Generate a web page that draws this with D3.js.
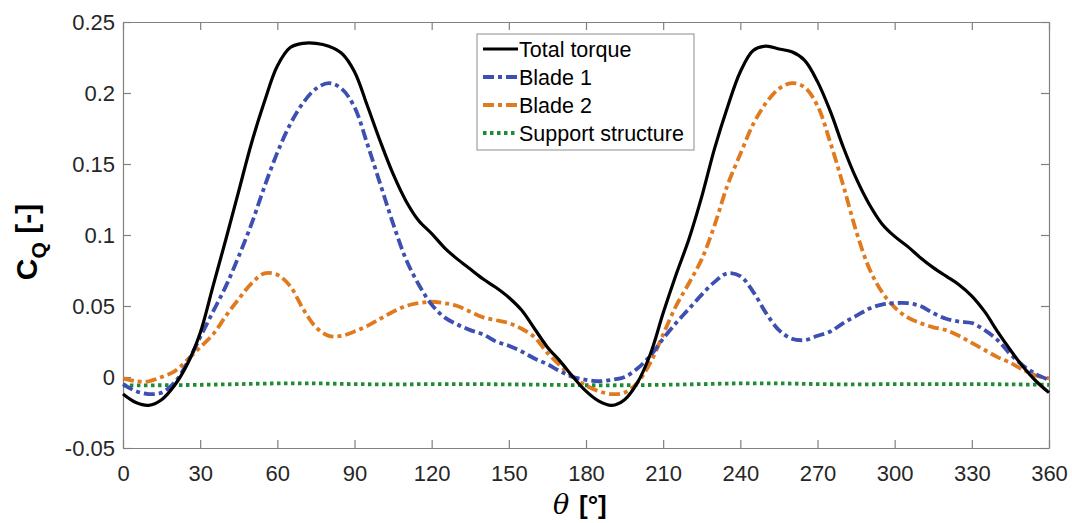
<!DOCTYPE html>
<html>
<head>
<meta charset="utf-8">
<script src="https://cdn.jsdelivr.net/npm/d3@7"></script>
<style>
  body { margin: 0; background: #fff; }
  svg { display: block; font-family: "Liberation Sans", Arial, sans-serif; }
  .axis text { font-size: 22px; fill: #262626; }
  .axis path, .axis line { stroke: #808080; stroke-width: 1.2; }
</style>
</head>
<body>
<div id="chart"></div>
<script>
// Rotor angle in degrees
const thetaDeg = [0,5,10,15,20,25,30,35,40,45,50,55,60,65,70,75,80,85,90,95,100,105,110,115,120,125,130,135,140,145,150,155,160,165,170,175,180,185,190,195,200,205,210,215,220,225,230,235,240,245,250,255,260,265,270,275,280,285,290,295,300,305,310,315,320,325,330,335,340,345,350,355,360];

// Torque coefficient, total
const totalTorque = [-0.012,-0.018,-0.020,-0.016,-0.006,0.009,0.031,0.064,0.097,0.131,0.165,0.194,0.219,0.232,0.235,0.235,0.233,0.228,0.215,0.191,0.166,0.143,0.124,0.110,0.101,0.091,0.083,0.076,0.069,0.063,0.056,0.047,0.034,0.021,0.011,0.000,-0.010,-0.017,-0.020,-0.016,-0.004,0.016,0.045,0.072,0.097,0.127,0.161,0.190,0.215,0.230,0.233,0.231,0.229,0.223,0.208,0.187,0.162,0.140,0.122,0.108,0.099,0.092,0.084,0.077,0.071,0.065,0.057,0.046,0.032,0.019,0.007,-0.003,-0.011];

// Blade 1
const blade1 = [-0.005,-0.010,-0.012,-0.011,-0.004,0.010,0.028,0.046,0.064,0.085,0.108,0.134,0.158,0.178,0.193,0.203,0.207,0.203,0.190,0.164,0.136,0.108,0.083,0.065,0.051,0.042,0.037,0.033,0.030,0.025,0.022,0.018,0.013,0.009,0.004,0.000,-0.002,-0.003,-0.002,0.000,0.006,0.015,0.027,0.038,0.048,0.058,0.067,0.073,0.071,0.060,0.045,0.033,0.027,0.026,0.029,0.032,0.038,0.043,0.048,0.051,0.052,0.052,0.050,0.045,0.041,0.039,0.038,0.033,0.026,0.016,0.008,0.002,-0.002];

// Blade 2
const blade2 = [-0.001,-0.003,-0.003,0.000,0.004,0.012,0.021,0.030,0.043,0.055,0.066,0.073,0.072,0.064,0.048,0.035,0.029,0.029,0.032,0.036,0.041,0.046,0.050,0.052,0.053,0.052,0.050,0.046,0.042,0.040,0.038,0.034,0.028,0.017,0.008,0.000,-0.006,-0.010,-0.012,-0.011,-0.004,0.010,0.030,0.050,0.066,0.083,0.107,0.135,0.157,0.178,0.193,0.203,0.207,0.204,0.191,0.165,0.135,0.103,0.077,0.060,0.049,0.042,0.038,0.035,0.033,0.029,0.024,0.019,0.014,0.010,0.005,0.001,-0.001];

// Support structure (sampled every 15 degrees)
const supportTheta = [0,15,30,45,60,75,90,105,120,135,150,165,180,195,210,225,240,255,270,285,300,315,330,345,360];
const supportStructure = [-0.0060,-0.0058,-0.0055,-0.0050,-0.0045,-0.0045,-0.0050,-0.0052,-0.0050,-0.0050,-0.0052,-0.0055,-0.0058,-0.0058,-0.0055,-0.0050,-0.0045,-0.0045,-0.0050,-0.0052,-0.0050,-0.0050,-0.0050,-0.0052,-0.0055];

const xTicks = [0,30,60,90,120,150,180,210,240,270,300,330,360];
const yTicks = [-0.05,0,0.05,0.1,0.15,0.2,0.25];
const seriesNames = ['Total torque','Blade 1','Blade 2','Support structure'];

(function(){
  const width = 1072, height = 523;
  const margin = {top: 22, right: 23, bottom: 75, left: 123};
  const innerWidth = width - margin.left - margin.right;
  const innerHeight = height - margin.top - margin.bottom;

  const svg = d3.select('#chart').append('svg')
    .attr('width', width).attr('height', height);
  const plot = svg.append('g').attr('transform', `translate(${margin.left},${margin.top})`);

  const x = d3.scaleLinear().domain([0, 360]).range([0, innerWidth]);
  const y = d3.scaleLinear().domain([-0.05, 0.25]).range([innerHeight, 0]);

  // Box with inward ticks on all four sides
  plot.append('g').attr('class', 'axis')
    .attr('transform', `translate(0,${innerHeight})`)
    .call(d3.axisBottom(x).tickValues(xTicks).tickSizeInner(-8).tickSizeOuter(0).tickPadding(17));
  plot.append('g').attr('class', 'axis')
    .call(d3.axisTop(x).tickValues(xTicks).tickSizeInner(-8).tickSizeOuter(0).tickFormat(''));
  plot.append('g').attr('class', 'axis')
    .call(d3.axisLeft(y).tickValues(yTicks).tickSizeInner(-8).tickSizeOuter(0).tickPadding(8)
      .tickFormat(d => d === 0 ? '0' : String(+d.toFixed(2))));
  plot.append('g').attr('class', 'axis')
    .attr('transform', `translate(${innerWidth},0)`)
    .call(d3.axisRight(y).tickValues(yTicks).tickSizeInner(-8).tickSizeOuter(0).tickFormat(''));
  plot.selectAll('.axis text').attr('font-family', null).attr('font-size', null);

  const styles = [
    {color: '#000000', dash: null, width: 3.2},
    {color: '#3d4fb0', dash: '11,4,4,4', width: 3.8},
    {color: '#e07a1f', dash: '11,4,4,4', width: 3.8},
    {color: '#1e8c34', dash: '3.5,3.5', width: 3.8}
  ];

  const line = d3.line()
    .x(d => x(d[0]))
    .y(d => y(d[1]))
    .curve(d3.curveCatmullRom.alpha(0.5));

  const series = [
    thetaDeg.map((t, i) => [t, totalTorque[i]]),
    thetaDeg.map((t, i) => [t, blade1[i]]),
    thetaDeg.map((t, i) => [t, blade2[i]]),
    supportTheta.map((t, i) => [t, supportStructure[i]])
  ];

  // Support first so the other curves sit on top
  [3, 2, 1, 0].forEach(k => {
    plot.append('path')
      .datum(series[k])
      .attr('fill', 'none')
      .attr('stroke', styles[k].color)
      .attr('stroke-width', styles[k].width)
      .attr('stroke-dasharray', styles[k].dash)
      .attr('d', line);
  });

  // Legend
  const lg = svg.append('g').attr('transform', 'translate(477,34)');
  lg.append('rect')
    .attr('width', 217).attr('height', 116)
    .attr('fill', '#fff').attr('stroke', '#8c8c8c').attr('stroke-width', 1);
  seriesNames.forEach((name, i) => {
    const cy = 15 + i * 28;
    lg.append('line')
      .attr('x1', 6).attr('x2', 41).attr('y1', cy).attr('y2', cy)
      .attr('stroke', styles[i].color)
      .attr('stroke-width', styles[i].width)
      .attr('stroke-dasharray', styles[i].dash);
    lg.append('text')
      .attr('x', 42).attr('y', cy + 8)
      .attr('font-size', 21.5).attr('fill', '#000')
      .text(name);
  });

  // Axis labels
  const yl = svg.append('text')
    .attr('transform', 'translate(37,242) rotate(-90)')
    .attr('text-anchor', 'middle')
    .attr('font-weight', 'bold')
    .attr('font-size', 30)
    .attr('fill', '#000');
  yl.append('tspan').text('C');
  yl.append('tspan').attr('font-size', 21).attr('dy', 9).text('Q');
  yl.append('tspan').attr('dy', -9).text(' [-]');

  svg.append('text')
    .attr('x', 553).attr('y', 514)
    .attr('font-size', 27).attr('fill', '#000')
    .attr('font-style', 'italic').attr('font-family', '"DejaVu Serif", serif')
    .text('θ');
  svg.append('text')
    .attr('x', 579).attr('y', 514)
    .attr('font-size', 26).attr('fill', '#000')
    .attr('font-weight', 'bold')
    .text('[°]');
})();
</script>
</body>
</html>
